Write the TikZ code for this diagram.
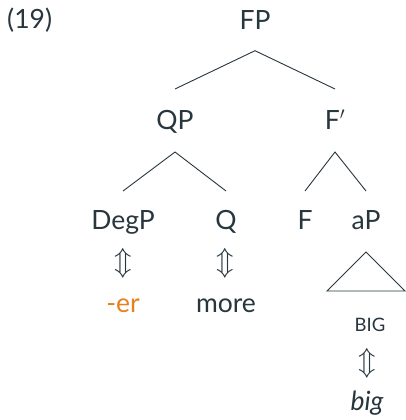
\documentclass[tikz,border=0pt]{standalone}
\usepackage{fontspec}
\setmainfont{Lato}
\newcommand{\corrarrow}{\scalebox{1.15}{$\Updownarrow$}}
\begin{document}
\definecolor{ink}{HTML}{28363E}
\definecolor{suffix}{HTML}{E8801E}
\begin{tikzpicture}[x=1pt,y=-1pt,
    lbl/.style={anchor=base,inner sep=0pt,text=ink,font=\fontsize{26.5}{30}\selectfont},
    corr/.style={anchor=center,inner sep=0pt,text=ink,font=\fontsize{24.88}{28}\selectfont},
    branch/.style={draw=ink,line width=0.9pt}]
  \useasboundingbox[fill=white] (0,0) rectangle (405,420);

  % example number
  \node[lbl,anchor=base west] (ex) at (7,29) {(19)};

  % tree nodes
  \node[lbl] (FP)   at (255,29.3) {FP};
  \node[lbl] (QP)   at (175,129)  {QP};
  \node[lbl] (Fbar) at (335,129)  {F$'$};
  \node[lbl] (DegP) at (123,229)  {DegP};
  \node[lbl] (Q)    at (226,229)  {Q};
  \node[lbl] (F)    at (305,229)  {F};
  \node[lbl] (aP)   at (366,229)  {aP};

  % exponents
  \node[corr] (arr1) at (123,263) {\corrarrow};
  \node[corr] (arr2) at (225,263) {\corrarrow};
  \node[lbl,text=suffix] (er) at (123,312.7) {-er};
  \node[lbl] (more) at (226,312.7) {more};
  \node[lbl,font=\fontsize{18.5}{20}\selectfont] (BIG) at (370,331.5) {BIG};
  \node[corr] (arr3) at (367,363) {\corrarrow};
  \node[lbl,font=\fontsize{26.5}{30}\selectfont\itshape] (big) at (367,410.5) {big};

  % branches
  \draw[branch] ([yshift=40pt]QP.base) -- ([yshift=-21.4pt]FP.base) -- ([yshift=40pt]Fbar.base);
  \draw[branch] ([yshift=38pt]DegP.base) -- ([yshift=-23pt]QP.base) -- ([yshift=38pt]Q.base);
  \draw[branch] ([yshift=38pt]F.base) -- ([yshift=-23pt]Fbar.base) -- ([yshift=38pt]aP.base);
  \draw[branch] ([yshift=-23pt]aP.base) -- ([xshift=-39pt,yshift=-62pt]aP.base)
    -- ([xshift=39pt,yshift=-62pt]aP.base) -- cycle;
\end{tikzpicture}
\end{document}
